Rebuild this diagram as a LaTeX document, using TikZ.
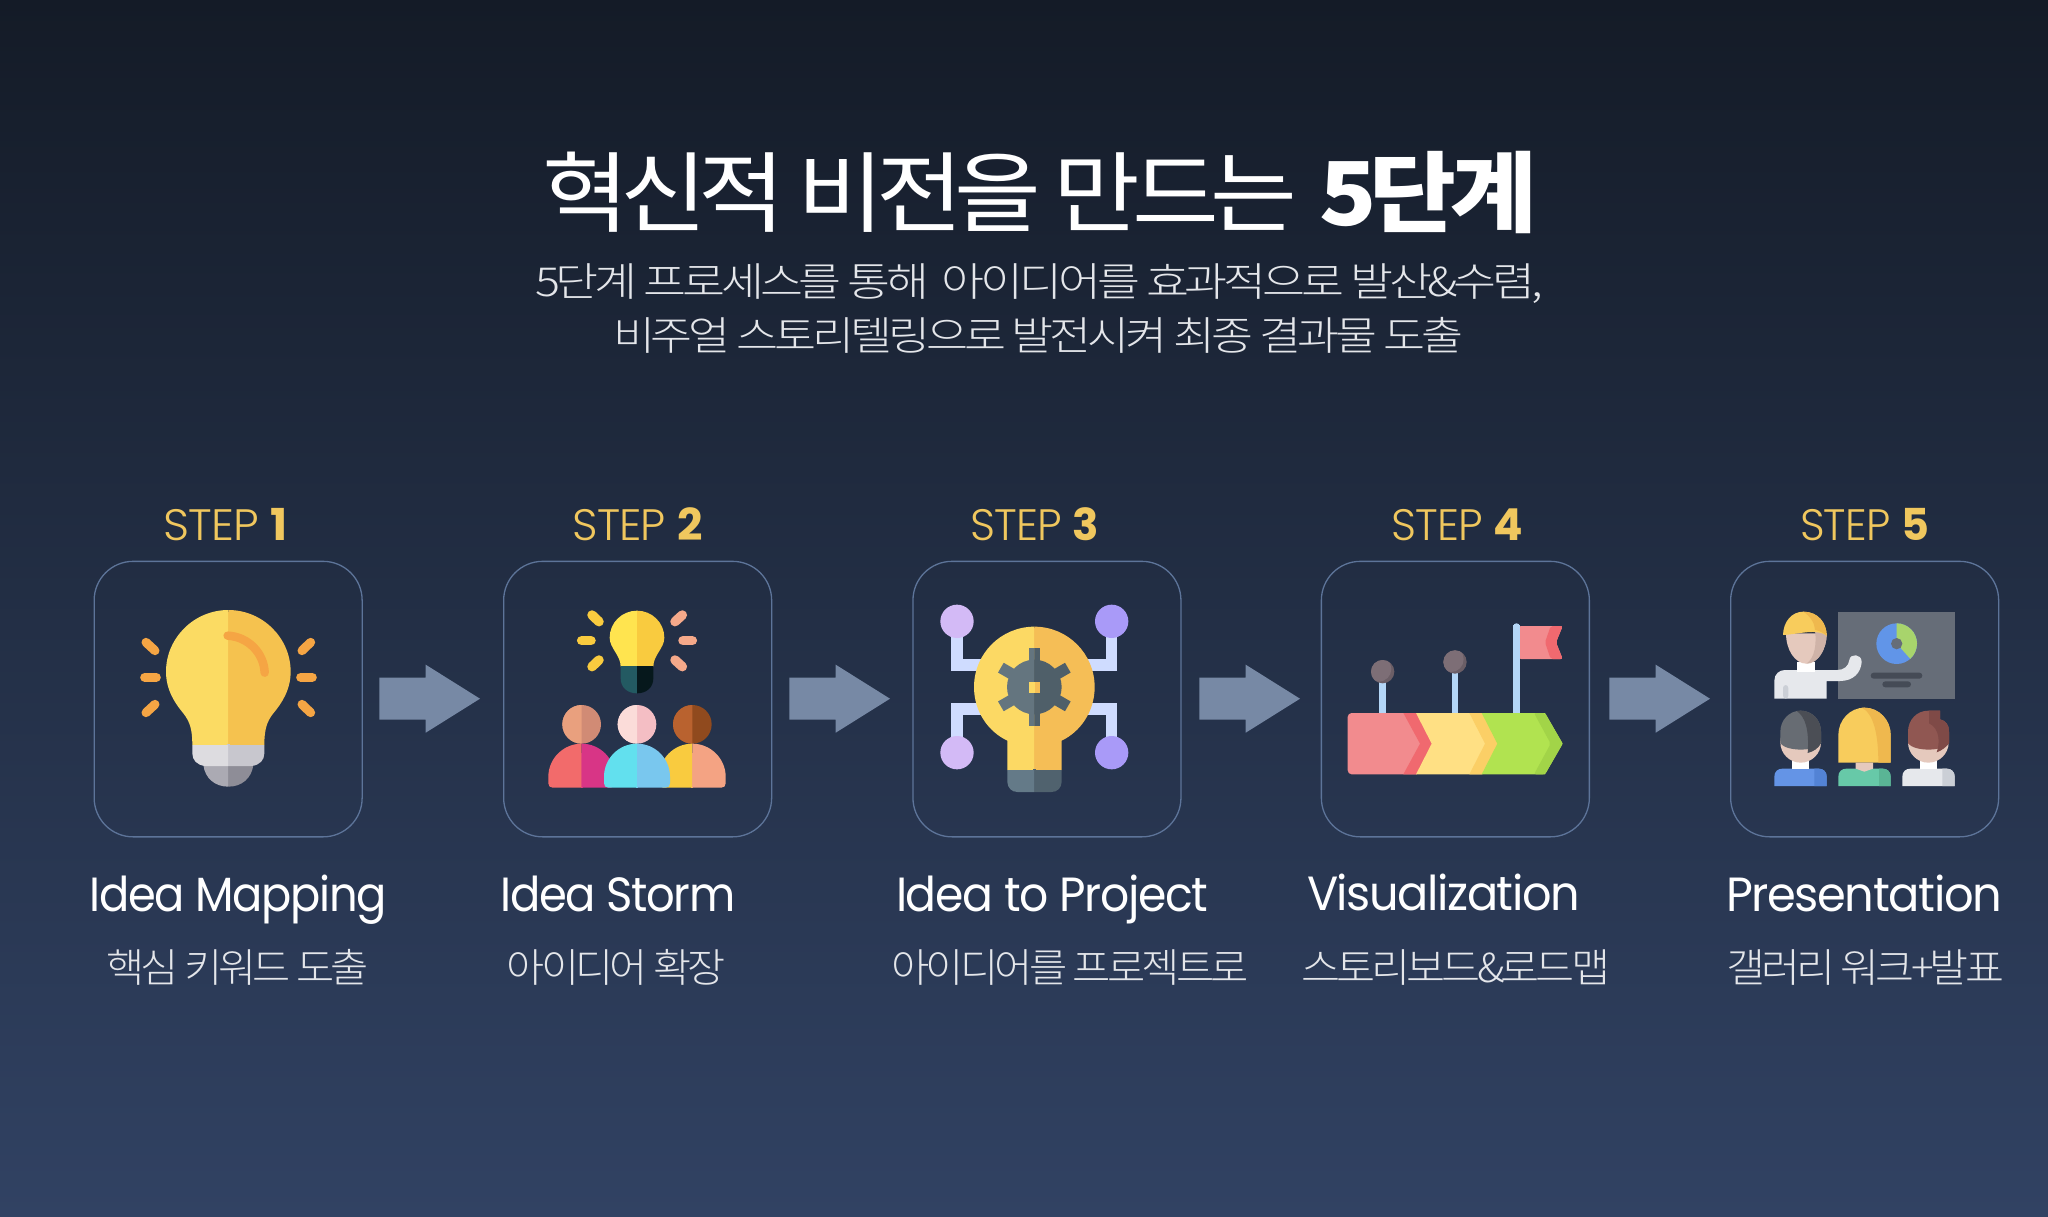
\documentclass[tikz,border=0pt]{standalone}
\usepackage{fontspec}
\usepackage{graphicx}
\newfontfamily\krl[LetterSpace=-9]{Noto Sans CJK KR Light}
\newfontfamily\krr[LetterSpace=-9]{Noto Sans CJK KR}
\newfontfamily\krb[LetterSpace=-7]{Noto Sans CJK KR Black}
\newfontfamily\popl[LetterSpace=-2]{Poppins Light}
\newfontfamily\popr[LetterSpace=-3]{Poppins}
\newfontfamily\pops{Poppins Bold}
\newcommand\fitted[4]{\resizebox{#1pt}{\height}{\fontsize{#3}{#3}#2\selectfont #4}}
\newcommand\steptext[1]{{\popl STEP }{\pops #1}}
\definecolor{bgtop}{HTML}{141B27}\definecolor{bgbot}{HTML}{314263}
\definecolor{boxline}{HTML}{5D7499}\definecolor{arrowfill}{HTML}{7789A5}
\definecolor{stepcol}{HTML}{F0C75E}\definecolor{subcol}{HTML}{E4E6EA}
\definecolor{yelL}{HTML}{FBDB63}\definecolor{yelR}{HTML}{F5C24F}\definecolor{ray}{HTML}{F5A544}
\definecolor{grayA}{HTML}{DDDCE0}\definecolor{grayB}{HTML}{C8C7CE}\definecolor{grayC}{HTML}{ABAAB3}\definecolor{grayD}{HTML}{8E8D97}
\definecolor{bulbL}{HTML}{FFE44F}\definecolor{bulbR}{HTML}{F9CB3F}\definecolor{tealL}{HTML}{235A62}\definecolor{tealR}{HTML}{06181C}\definecolor{salmon}{HTML}{F5A98A}
\definecolor{headAL}{HTML}{E9A07E}\definecolor{headAR}{HTML}{D18B75}\definecolor{headBL}{HTML}{FBDCD9}\definecolor{headBR}{HTML}{F4BEC4}\definecolor{headCL}{HTML}{B9622F}\definecolor{headCR}{HTML}{904A1E}
\definecolor{bodyAL}{HTML}{F26B6B}\definecolor{bodyAR}{HTML}{D83586}\definecolor{bodyBL}{HTML}{62E0EE}\definecolor{bodyBR}{HTML}{79C7EE}\definecolor{bodyCR}{HTML}{F4A383}
\definecolor{purL}{HTML}{D3BAF6}\definecolor{purR}{HTML}{A99AF8}\definecolor{wire}{HTML}{CFDCFF}
\definecolor{idL}{HTML}{FCD964}\definecolor{idR}{HTML}{F5BE56}\definecolor{slateL}{HTML}{647A88}\definecolor{slateR}{HTML}{50626E}\definecolor{gearL}{HTML}{64757F}\definecolor{gearR}{HTML}{4F5F69}
\definecolor{pole}{HTML}{B4D6F7}\definecolor{ballL}{HTML}{7D6E76}\definecolor{ballR}{HTML}{6B5E66}
\definecolor{redA}{HTML}{F28B8E}\definecolor{redB}{HTML}{F0696F}\definecolor{yA}{HTML}{FFE084}\definecolor{yB}{HTML}{FBCF66}\definecolor{gA}{HTML}{B1E350}\definecolor{gB}{HTML}{A2D448}
\definecolor{board}{HTML}{666D78}\definecolor{pieB}{HTML}{6195E8}\definecolor{pieG}{HTML}{A8D46C}\definecolor{barc}{HTML}{454B56}
\definecolor{skin}{HTML}{E5C9BD}\definecolor{skinD}{HTML}{CFB3A8}\definecolor{shirt}{HTML}{E6E8EC}\definecolor{shirtD}{HTML}{CBCFD6}
\definecolor{hairY}{HTML}{F8CC5C}\definecolor{hairYD}{HTML}{EFB84E}\definecolor{hairG}{HTML}{676C73}\definecolor{hairGD}{HTML}{4B4E55}\definecolor{hairB}{HTML}{905752}\definecolor{hairBD}{HTML}{7F4A47}
\definecolor{blueA}{HTML}{6494E6}\definecolor{blueB}{HTML}{5383D5}\definecolor{greenA}{HTML}{67C9A8}\definecolor{greenB}{HTML}{5AB595}
\tikzset{
 txt/.style={anchor=base west,inner sep=0pt,outer sep=0pt},
 iconbox/.style={draw=boxline,line width=1.3pt,rounded corners=39pt,minimum width=268pt,minimum height=275.5pt,inner sep=0pt,anchor=north west},
 zc/.style 2 args={xshift=#1pt,yshift=-#2pt,x=0.33333pt,y=-0.33333pt},
 rayl/.style={line width=9pt,line cap=round},
 ray2/.style={line width=9.5pt,line cap=round},
 wirel/.style={draw=wire,line width=11.3pt,line join=miter},
}
\newcommand\dome[4]{%
 \fill[#4] ({#1-3},790) rectangle ({#1+3},893);
 \fill[#3] (#1,761) .. controls ({#1-55},761) and ({#1-#2},806) .. ({#1-#2},860) -- ({#1-#2},880) .. controls ({#1-#2},888) and ({#1-#2+5},893) .. ({#1-#2+13},893) -- (#1,893) -- cycle;
 \fill[#4] (#1,761) .. controls ({#1+55},761) and ({#1+#2},806) .. ({#1+#2},860) -- ({#1+#2},880) .. controls ({#1+#2},888) and ({#1+#2-5},893) .. ({#1+#2-13},893) -- (#1,893) -- cycle;}
\newcommand\halfdisc[5]{%
 \fill[#5] (#1,#2) circle (#3);
 \fill[#4] (#1,{#2-#3}) arc (270:90:#3) -- cycle;}
\newcommand\gearshape[1]{%
 \fill[#1] (403,591) circle (82);
 \foreach \a in {90,30,150}{\draw[#1,line width=11.3pt] (403,591) ++(\a:116) -- ++(\a:-232);}}
\newcommand\ball[2]{%
 \fill[ballR] (#1,#2) circle (35);
 \begin{scope}\clip (#1,#2) circle (35); \fill[ballL] ({#1-12},{#2-8}) circle (38);\end{scope}}
% garment with rounded top corners and a square foot
\newcommand\garment[3]{%
 \fill[#3] (#1,888) -- (#1,860) .. controls (#1,845) and ({#1+10},836) .. ({#1+24},836) -- ({#2-24},836) .. controls ({#2-10},836) and (#2,845) .. (#2,860) -- (#2,888) -- cycle;}
\newcommand\garmentR[3]{%
 \fill[#3] (#1,888) -- (#1,836) -- ({#2-24},836) .. controls ({#2-10},836) and (#2,845) .. (#2,860) -- (#2,888) -- cycle;}
\begin{document}
\begin{tikzpicture}[x=1pt,y=-1pt]
\useasboundingbox (0,0) rectangle (2048,1217);
\shade[top color=bgtop,bottom color=bgbot] (0,0) rectangle (2048,1217);

% title
\node[txt,text=white] (title) at (542,225.5) {\fitted{755}{\krr}{88pt}{혁신적 비전을 만드는}};
\node[txt,text=white] (titleb) at (1319,225.5) {\fitted{218}{\krb}{88pt}{5단계}};
\node[txt,text=subcol] (subA) at (535,296.5) {\fitted{1008}{\krl}{40pt}{5단계 프로세스를 통해\ \ 아이디어를 효과적으로 발산\&수렴,}};
\node[txt,text=subcol] (subB) at (613,350.5) {\fitted{850}{\krl}{40pt}{비주얼 스토리텔링으로 발전시켜 최종 결과물 도출}};

% step labels
\node[txt,text=stepcol] (stepA) at (163.5,540.5) {\fitted{124}{}{44pt}{\steptext{1}}};
\node[txt,text=stepcol] (stepB) at (572.5,540.5) {\fitted{130}{}{44pt}{\steptext{2}}};
\node[txt,text=stepcol] (stepC) at (970.2,540.5) {\fitted{129}{}{44pt}{\steptext{3}}};
\node[txt,text=stepcol] (stepD) at (1391.2,540.5) {\fitted{132}{}{44pt}{\steptext{4}}};
\node[txt,text=stepcol] (stepE) at (1800.2,540.5) {\fitted{129}{}{44pt}{\steptext{5}}};

% boxes
\node[iconbox] (boxA) at (93.5,560.7) {};
\node[iconbox] (boxB) at (503,560.7) {};
\node[iconbox] (boxC) at (912.3,560.7) {};
\node[iconbox] (boxD) at (1320.7,560.7) {};
\node[iconbox] (boxE) at (1730,560.7) {};

% block arrows
\foreach \ax in {379.3,789.3,1199.3,1609.3}{
 \fill[arrowfill] (\ax,677.7) -- ({\ax+46.4},677.7) -- ({\ax+46.4},664.7) -- ({\ax+100.7},698.7) -- ({\ax+46.4},732.7) -- ({\ax+46.4},719.7) -- (\ax,719.7) -- cycle;
}

% names
\node[txt,text=white] (nameA) at (89.5,911) {\fitted{297}{\popr}{48pt}{Idea Mapping}};
\node[txt,text=white] (nameB) at (500.5,911) {\fitted{235}{\popr}{48pt}{Idea Storm}};
\node[txt,text=white] (nameC) at (896,911) {\fitted{312}{\popr}{48pt}{Idea to Project}};
\node[txt,text=white] (nameD) at (1307,910) {\fitted{273}{\popr}{48pt}{Visualization}};
\node[txt,text=white] (nameE) at (1726,911) {\fitted{276}{\popr}{48pt}{Presentation}};
\node[txt,text=subcol] (descA) at (106,982.5) {\fitted{263}{\krl}{40pt}{핵심 키워드 도출}};
\node[txt,text=subcol] (descB) at (506.6,982.5) {\fitted{219}{\krl}{40pt}{아이디어 확장}};
\node[txt,text=subcol] (descC) at (891,982.5) {\fitted{358}{\krl}{40pt}{아이디어를 프로젝트로}};
\node[txt,text=subcol] (descD) at (1301,982.5) {\fitted{309}{\krl}{40pt}{스토리보드\&로드맵}};
\node[txt,text=subcol] (descE) at (1726,982.5) {\fitted{278}{\krl}{40pt}{갤러리 워크+발표}};

% icon 1
\begin{scope}[zc={80}{490}]
 \fill[yelR] (441,365) rectangle (449,765);
 \fill[yelL] (445,360) .. controls (342,360) and (258,444) .. (258,545) .. controls (258,600) and (285,640) .. (310,670) .. controls (330,695) and (337,720) .. (337,765) -- (445,765) -- cycle;
 \fill[yelR] (445,360) .. controls (548,360) and (632,444) .. (632,545) .. controls (632,600) and (605,640) .. (580,670) .. controls (560,695) and (553,720) .. (553,765) -- (445,765) -- cycle;
 \draw[ray,line width=8.5pt,line cap=round] (443,437) .. controls (505,440) and (552,490) .. (554,548);
 \fill[grayD] (441,825) rectangle (449,888);
 \fill[grayC] (370,825) -- (445,825) -- (445,890) .. controls (405,890) and (375,865) .. (370,825) -- cycle;
 \fill[grayD] (520,825) -- (445,825) -- (445,890) .. controls (485,890) and (515,865) .. (520,825) -- cycle;
 \fill[grayB] (441,763) rectangle (449,828);
 \fill[grayA] (337,765) -- (445,765) -- (445,828) -- (375,828) .. controls (350,825) and (337,810) .. (337,790) -- cycle;
 \fill[grayB] (553,765) -- (445,765) -- (445,828) -- (515,828) .. controls (540,825) and (553,810) .. (553,790) -- cycle;
 \foreach \xa/\ya/\xb/\yb in {198/457/225/482,194/562/229/562,198/668/225/643,692/457/666/482,697/562/662/562,692/668/666/643}{
  \draw[ray,rayl] (\xa,\ya) -- (\xb,\yb);}
\end{scope}

% icon 2
\begin{scope}[zc={490}{490}]
 \fill[bulbR] (437,366) rectangle (445,530);
 \fill[bulbL] (441,362) .. controls (396,362) and (359,398) .. (359,443) .. controls (359,475) and (392,495) .. (392,530) -- (441,530) -- cycle;
 \fill[bulbR] (441,362) .. controls (486,362) and (523,398) .. (523,443) .. controls (523,475) and (490,495) .. (490,530) -- (441,530) -- cycle;
 \fill[tealR] (437,528) rectangle (445,608);
 \fill[tealL] (392,528) -- (441,528) -- (441,610) .. controls (412,610) and (392,592) .. (392,565) -- cycle;
 \fill[tealR] (490,528) -- (441,528) -- (441,610) .. controls (470,610) and (490,592) .. (490,565) -- cycle;
 \foreach \xa/\ya/\xb/\yb in {306/375/327/395,275/452/303/452,306/530/327/510}{\draw[bulbR,ray2] (\xa,\ya) -- (\xb,\yb);}
 \foreach \xa/\ya/\xb/\yb in {577/375/555/395,607/452/579/452,577/530/555/510}{\draw[salmon,ray2] (\xa,\ya) -- (\xb,\yb);}
 \halfdisc{275}{703}{58}{headAL}{headAR}
 \halfdisc{441}{703}{58}{headBL}{headBR}
 \halfdisc{607}{703}{58}{headCL}{headCR}
 \dome{275}{100}{bodyAL}{bodyAR}
 \dome{607}{100}{bulbR}{bodyCR}
 \dome{441}{99}{bodyBL}{bodyBR}
\end{scope}

% icon 3
\begin{scope}[zc={900}{490}]
 \draw[wirel] (171,430) -- (171,525) -- (250,525);
 \draw[wirel] (635,430) -- (635,525) -- (556,525);
 \draw[wirel] (171,750) -- (171,657) -- (250,657);
 \draw[wirel] (635,750) -- (635,657) -- (556,657);
 \fill[purL] (171,394) circle (50);
 \fill[purR] (635,394) circle (50);
 \fill[purL] (171,788) circle (50);
 \fill[purR] (635,788) circle (50);
 \fill[idR] (399,414) rectangle (407,840);
 \fill[idL] (403,410) .. controls (303,410) and (222,491) .. (222,591) .. controls (222,665) and (265,725) .. (322,752) -- (322,840) -- (403,840) -- cycle;
 \fill[idR] (403,410) .. controls (503,410) and (584,491) .. (584,591) .. controls (584,665) and (541,725) .. (485,752) -- (485,840) -- (403,840) -- cycle;
 \fill[slateR] (399,838) rectangle (407,906);
 \fill[slateL] (322,840) -- (403,840) -- (403,906) -- (352,906) .. controls (335,906) and (322,893) .. (322,875) -- cycle;
 \fill[slateR] (485,840) -- (403,840) -- (403,906) -- (455,906) .. controls (472,906) and (485,893) .. (485,875) -- cycle;
 \begin{scope}\clip (250,400) rectangle (404,800); \gearshape{gearL}\end{scope}
 \begin{scope}\clip (403,400) rectangle (560,800); \gearshape{gearR}\end{scope}
 \fill[idR] (403,575) rectangle (420,608);
 \fill[idL] (386,575) rectangle (404,608);
\end{scope}

% icon 4
\begin{scope}[zc={1310}{490}]
 \draw[pole,line width=6.5pt] (218,570) -- (218,672);
 \draw[pole,line width=6.5pt] (435,540) -- (435,672);
 \fill[pole,rounded corners=3pt] (610,672) -- (610,400) -- (629,400) -- (629,672) -- cycle;
 \ball{218}{545}
 \ball{435}{516}
 \fill[redA,rounded corners=2pt] (627,408) -- (758,408) -- (738,457) -- (758,507) -- (627,507) -- cycle;
 \fill[redB,rounded corners=2pt] (722,408) -- (758,408) -- (738,457) -- (758,507) -- (722,507) -- (705,457) -- cycle;
 \fill[pole] (610,405) rectangle (629,672);
 \fill[redA,rounded corners=4pt] (330,669) -- (113,669) -- (113,853) -- (330,853) -- cycle;
 \fill[redB] (280,669) -- (330,761) -- (280,853) -- (320,853) -- (367,761) -- (320,669) -- cycle;
 \fill[yA] (318,669) -- (515,669) -- (562,761) -- (515,853) -- (318,853) -- (365,761) -- cycle;
 \fill[yB] (478,669) -- (525,761) -- (478,853) -- (517,853) -- (564,761) -- (517,669) -- cycle;
 \fill[gA] (515,669) -- (705,669) -- (758,761) -- (705,853) -- (515,853) -- (562,761) -- cycle;
 \fill[gB,rounded corners=2pt] (672,669) -- (705,669) -- (758,761) -- (705,853) -- (672,853) -- (722,761) -- cycle;
\end{scope}

% icon 5
\begin{scope}[zc={1720}{490}]
 \fill[board] (355,365) rectangle (705,626);
 \fill[pieB] (530,461) circle (61);
 \fill[pieG] (530,461) -- (530,400) arc (270:408:61) -- cycle;
 \fill[board] (530,461) circle (17);
 \fill[barc,rounded corners=3pt] (452,548) rectangle (607,566);
 \fill[barc,rounded corners=3pt] (487,574) rectangle (573,592);
 % presenter
 \fill[shirt] (163,626) -- (163,572) .. controls (163,552) and (178,540) .. (195,540) -- (352,540) .. controls (372,540) and (386,528) .. (388,510) .. controls (390,490) and (425,490) .. (425,516) .. controls (423,548) and (400,573) .. (360,573) -- (320,573) -- (320,626) -- cycle;
 \fill[shirtD,rounded corners=3pt] (189,626) -- (189,585) -- (205,585) -- (205,626) -- cycle;
 \fill[white] (232,515) rectangle (285,545);
 \fill[skin] (198,430) .. controls (198,480) and (225,521) .. (259,521) .. controls (293,521) and (320,480) .. (320,430) -- cycle;
 \fill[skinD] (285,420) -- (320,430) .. controls (320,480) and (293,521) .. (259,521) .. controls (285,505) and (290,460) .. (285,420) -- cycle;
 \fill[hairY] (189,435) .. controls (190,395) and (215,365) .. (250,365) .. controls (295,365) and (320,400) .. (320,437) .. controls (290,415) and (240,432) .. (189,435) -- cycle;
 \fill[hairYD] (250,365) .. controls (295,365) and (320,400) .. (320,437) .. controls (310,428) and (298,422) .. (285,420) .. controls (285,400) and (270,378) .. (250,365) -- cycle;
 % audience left
 \garment{163}{320}{blueA}
 \garmentR{283}{320}{blueB}
 \fill[white] (215,805) rectangle (268,836);
 \fill[skin] (242,757) ellipse (61 and 61);
 \fill[hairG] (181,760) -- (181,725) .. controls (181,690) and (208,662) .. (242,662) .. controls (276,662) and (303,690) .. (303,725) -- (303,760) .. controls (285,785) and (200,785) .. (181,760) -- cycle;
 \fill[hairGD] (230,663) .. controls (256,680) and (268,720) .. (263,789) .. controls (280,785) and (295,775) .. (303,760) -- (303,725) .. controls (303,690) and (276,662) .. (242,662) -- cycle;
 % audience centre
 \fill[hairY] (355,818) -- (355,735) .. controls (355,690) and (390,653) .. (433,653) .. controls (477,653) and (512,690) .. (512,735) -- (512,818) -- cycle;
 \fill[hairYD] (425,653) .. controls (460,670) and (475,730) .. (475,818) -- (512,818) -- (512,735) .. controls (512,690) and (477,653) .. (433,653) -- cycle;
 \garment{355}{512}{greenA}
 \garmentR{477}{512}{greenB}
 \fill[skin] (407,818) -- (407,836) -- (433,845) -- (459,836) -- (459,818) -- cycle;
 % audience right
 \garment{547}{704}{shirt}
 \garmentR{667}{704}{shirtD}
 \fill[white] (600,805) rectangle (652,836);
 \fill[skin] (625,757) ellipse (61 and 61);
 \fill[hairB] (564,760) -- (564,725) .. controls (564,690) and (590,662) .. (625,662) -- (660,662) -- (660,688) .. controls (678,692) and (687,705) .. (687,725) -- (687,760) .. controls (668,785) and (583,785) .. (564,760) -- cycle;
 \fill[hairBD] (627,662) -- (660,662) -- (660,688) .. controls (678,692) and (687,705) .. (687,725) -- (687,760) .. controls (680,770) and (665,782) .. (650,787) .. controls (660,760) and (660,715) .. (627,700) -- cycle;
\end{scope}
\end{tikzpicture}
\end{document}
